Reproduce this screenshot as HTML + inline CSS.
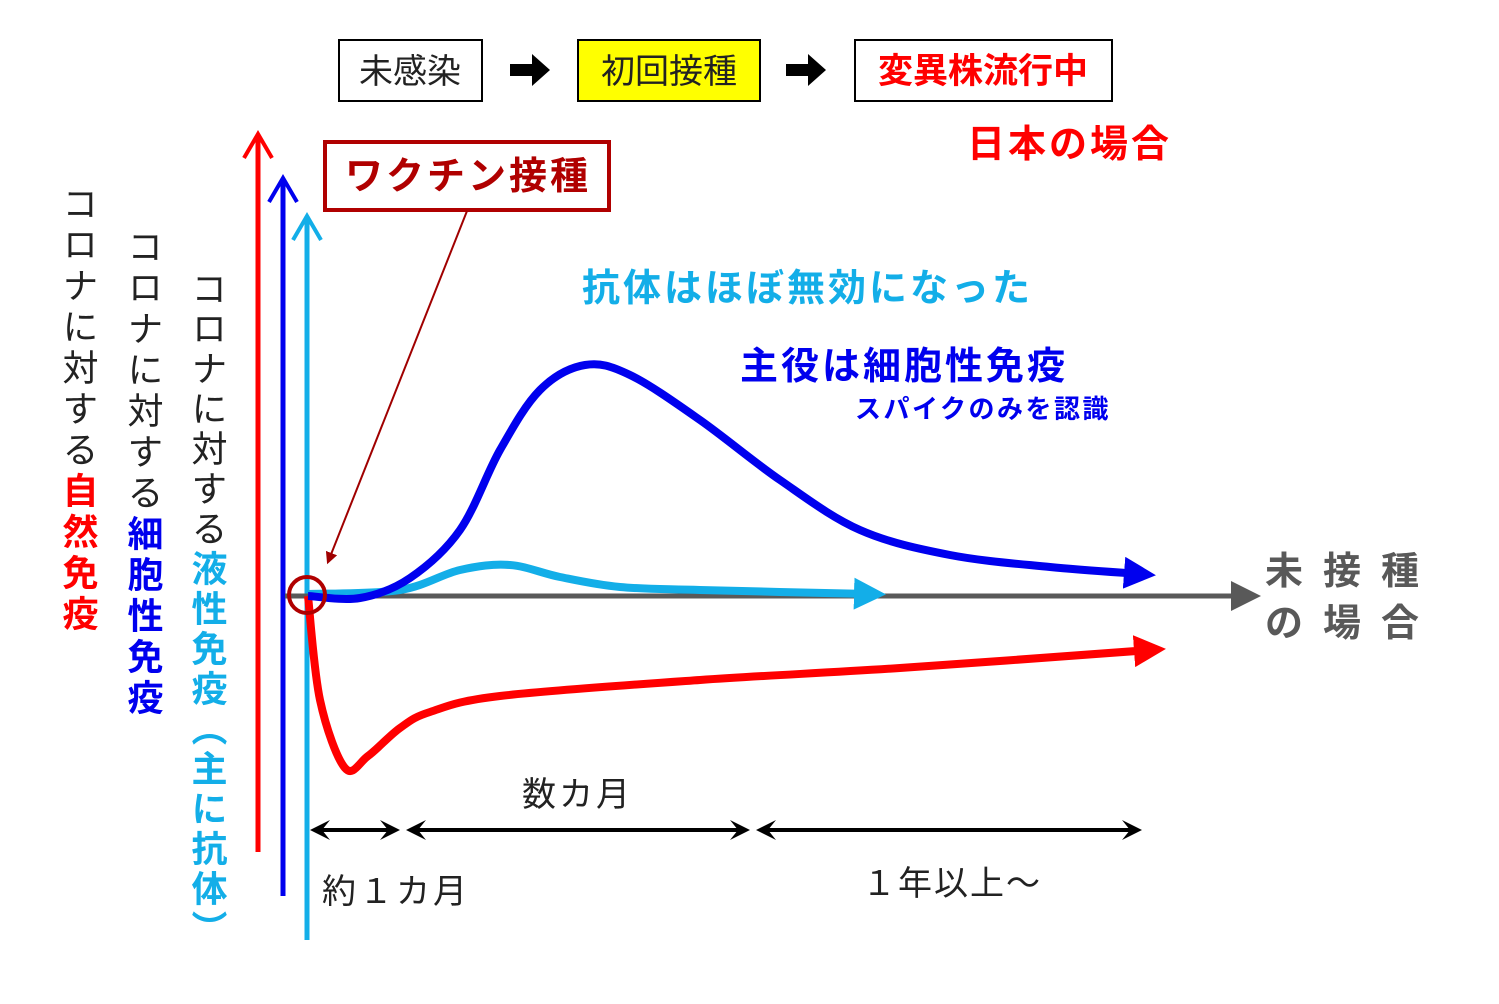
<!DOCTYPE html>
<html><head><meta charset="utf-8"><style>
body{margin:0;background:#fff;}
svg text{font-family:"Liberation Sans","Noto Sans CJK JP",sans-serif;}
</style></head><body>
<svg width="1499" height="999" viewBox="0 0 1499 999" xmlns="http://www.w3.org/2000/svg">
<defs>
<marker id="mB" viewBox="0 0 10 10" refX="5" refY="5" markerWidth="4" markerHeight="4" orient="auto"><path d="M0,0L10,5L0,10z" fill="#0000ee"/></marker>
<marker id="mC" viewBox="0 0 10 10" refX="5" refY="5" markerWidth="4" markerHeight="4" orient="auto"><path d="M0,0L10,5L0,10z" fill="#13aee8"/></marker>
<marker id="mR" viewBox="0 0 10 10" refX="5" refY="5" markerWidth="4" markerHeight="4" orient="auto"><path d="M0,0L10,5L0,10z" fill="#ff0000"/></marker>
<marker id="mG" viewBox="0 0 10 10" refX="3" refY="5" markerWidth="6" markerHeight="6" orient="auto"><path d="M0,0L10,5L0,10z" fill="#595959"/></marker>
<marker id="mK" viewBox="0 0 10 10" refX="8" refY="5" markerWidth="6" markerHeight="6" orient="auto"><path d="M0,0L10,5L0,10z" fill="#a00000"/></marker>
<marker id="mD" viewBox="0 0 10 10" refX="8" refY="5" markerWidth="5" markerHeight="5" orient="auto-start-reverse"><path d="M0,0L10,5L0,10L4,5z" fill="#000"/></marker>
</defs>
<rect x="339" y="40" width="143" height="61" fill="#fff" stroke="#000" stroke-width="2"/>
<text x="410" y="83" font-size="34" text-anchor="middle" fill="#222">未感染</text>
<path d="M510,64h22v-10l18,16l-18,16v-10h-22z" fill="#000"/>
<rect x="578" y="40" width="182" height="61" fill="#ffff00" stroke="#000" stroke-width="2"/>
<text x="669" y="83" font-size="34" text-anchor="middle" fill="#222">初回接種</text>
<path d="M786,64h22v-10l18,16l-18,16v-10h-22z" fill="#000"/>
<rect x="855" y="40" width="257" height="61" fill="#fff" stroke="#000" stroke-width="2"/>
<text x="983" y="83" font-size="35" font-weight="bold" text-anchor="middle" fill="#ff0000">変異株流行中</text>
<text x="967" y="157" font-size="38" font-weight="bold" fill="#ff0000" letter-spacing="3">日本の場合</text>
<line x1="258" y1="852" x2="258" y2="136" stroke="#ff0000" stroke-width="5"/>
<path d="M244,158L258,134L272,158" fill="none" stroke="#ff0000" stroke-width="4"/>
<line x1="283" y1="896" x2="283" y2="180" stroke="#0000ee" stroke-width="5"/>
<path d="M269,202L283,178L297,202" fill="none" stroke="#0000ee" stroke-width="4"/>
<line x1="307" y1="940" x2="307" y2="216" stroke="#13aee8" stroke-width="5"/>
<path d="M293,240L307,216L321,240" fill="none" stroke="#13aee8" stroke-width="4"/>
<text x="78" y="185" font-size="36" writing-mode="tb" letter-spacing="5" fill="#222">コロナに対する<tspan fill="#ff0000" font-weight="bold">自然免疫</tspan></text>
<text x="143" y="228" font-size="36" writing-mode="tb" letter-spacing="5" fill="#222">コロナに対する<tspan fill="#0000ee" font-weight="bold">細胞性免疫</tspan></text>
<text x="207" y="270" font-size="36" writing-mode="tb" letter-spacing="4" fill="#222">コロナに対する<tspan fill="#13aee8" font-weight="bold">液性免疫（主に抗体）</tspan></text>
<line x1="285" y1="596" x2="1240" y2="596" stroke="#595959" stroke-width="5" marker-end="url(#mG)"/>
<g id="curves"></g>
<rect x="325" y="142" width="284" height="68" fill="#fff" stroke="#b00000" stroke-width="4"/>
<text x="345" y="189" font-size="38" font-weight="bold" letter-spacing="3" fill="#b00000">ワクチン接種</text>
<line x1="467" y1="211" x2="328" y2="562" stroke="#a00000" stroke-width="2" marker-end="url(#mK)"/>
<circle cx="307" cy="595" r="18" fill="none" stroke="#b00000" stroke-width="4"/>
<text x="582" y="301" font-size="38" font-weight="bold" letter-spacing="3" fill="#13aee8">抗体はほぼ無効になった</text>
<text x="740" y="379" font-size="38" font-weight="bold" letter-spacing="3" fill="#0000ee">主役は細胞性免疫</text>
<text x="855" y="418" font-size="26" font-weight="bold" letter-spacing="2.5" fill="#0000ee">スパイクのみを認識</text>
<text x="1265" y="584" font-size="38" font-weight="bold" fill="#595959" letter-spacing="20">未接種</text>
<text x="1265" y="636" font-size="38" font-weight="bold" fill="#595959" letter-spacing="20">の場合</text>
<line x1="314" y1="830" x2="396" y2="830" stroke="#000" stroke-width="4" marker-start="url(#mD)" marker-end="url(#mD)"/>
<line x1="410" y1="830" x2="746" y2="830" stroke="#000" stroke-width="4" marker-start="url(#mD)" marker-end="url(#mD)"/>
<line x1="760" y1="830" x2="1138" y2="830" stroke="#000" stroke-width="4" marker-start="url(#mD)" marker-end="url(#mD)"/>
<text x="522" y="806" font-size="34" letter-spacing="3" fill="#222">数カ月</text>
<text x="322" y="903" font-size="34" letter-spacing="3" fill="#222">約１カ月</text>
<text x="862" y="895" font-size="34" letter-spacing="2" fill="#222">１年以上～</text>
</svg>
<script>
const blueT=[0,5.2,10.2,15.2,19.2,23.2,27.7,32.2,39.2,47.2,55.2,64.2,74.2,83.2];
const blueV=[0,-1,9,33,73,103,115.5,110.5,88,58,33,20.5,14.5,11];
const cyanT=[0,9.2,15.2,20.2,25.2,31.2,39.2,56.2];
const cyanV=[1,3,13,15.5,9.5,4.5,3,1];
const redT=[0,1.2,3.7,6,9.2,12.2,19.2,39.2,59.2,84.2];
const redV=[0,-52,-86,-80,-66,-58,-50,-42,-36,-27];
function xs(t){return 308+t*10;}
function ys(v){return 596-v*2;}
function path(T,V){
  const p=T.map((t,i)=>[xs(t),ys(V[i])]);
  let d='M'+p[0][0]+','+p[0][1];
  for(let i=0;i<p.length-1;i++){
    const a=p[Math.max(i-1,0)],b=p[i],c=p[i+1],e=p[Math.min(i+2,p.length-1)];
    const c1=[b[0]+(c[0]-a[0])/6,b[1]+(c[1]-a[1])/6],c2=[c[0]-(e[0]-b[0])/6,c[1]-(e[1]-b[1])/6];
    d+=' C'+c1+' '+c2+' '+c;
  }
  return d;
}
const g=document.getElementById('curves');
function add(T,V,col,m,name){
  const el=document.createElementNS('http://www.w3.org/2000/svg','path');
  el.setAttribute('d',path(T,V));
  el.setAttribute('fill','none');
  el.setAttribute('stroke',col);
  el.setAttribute('stroke-width','8');
  el.setAttribute('marker-end','url(#'+m+')');
  
  
  g.appendChild(el);
}
add(cyanT,cyanV,'#13aee8','mC','antibody-curve');
add(redT,redV,'#ff0000','mR','innate-curve');
add(blueT,blueV,'#0000ee','mB','cellular-curve');
</script>
</body></html>
